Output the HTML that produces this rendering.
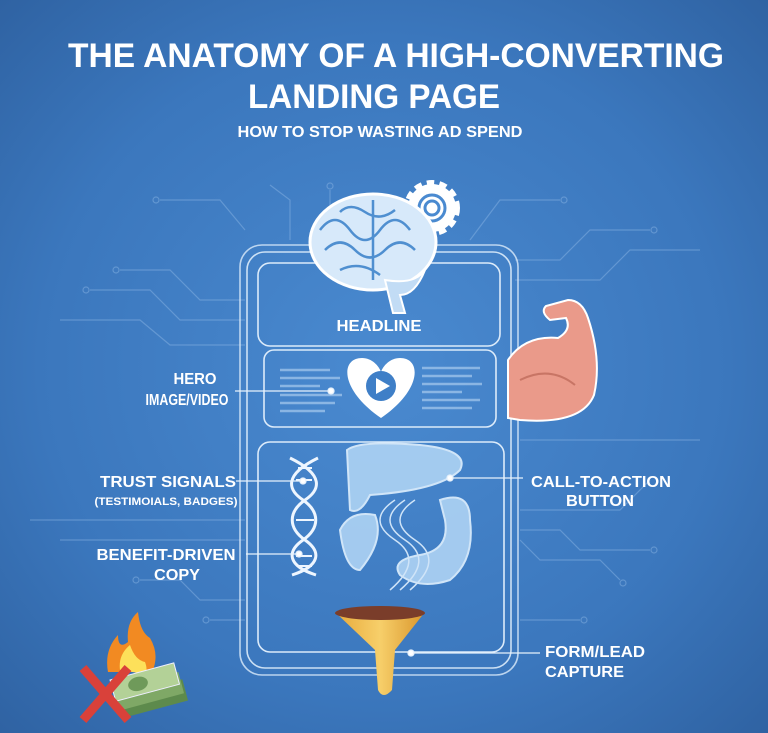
<!DOCTYPE html>
<html><head><meta charset="utf-8"><style>
html,body{margin:0;padding:0;width:768px;height:733px;overflow:hidden}
svg{display:block}
text{font-family:"Liberation Sans",sans-serif;font-weight:bold;fill:#fff}
</style></head><body>
<svg width="768" height="733" viewBox="0 0 768 733" xmlns="http://www.w3.org/2000/svg">
<defs>
<radialGradient id="bg" cx="0.5" cy="0.5" r="0.75">
<stop offset="0" stop-color="#4a8ad0"/><stop offset="0.6" stop-color="#3b77bd"/><stop offset="1" stop-color="#2d5f9e"/>
</radialGradient>
<linearGradient id="fun" x1="0" x2="1"><stop offset="0" stop-color="#e7a93a"/><stop offset="0.5" stop-color="#f7cf6a"/><stop offset="1" stop-color="#d9952b"/></linearGradient>
</defs>
<rect width="768" height="733" fill="url(#bg)"/>
<g stroke="#8fb8e6" stroke-width="1.2" fill="none" opacity="0.45">
<path d="M245 300 H200 L170 270 H120"/><circle cx="116" cy="270" r="3"/>
<path d="M245 320 H180 L150 290 H90"/><circle cx="86" cy="290" r="3"/>
<path d="M245 345 H170 L140 320 H60"/>
<path d="M245 230 L220 200 H160"/><circle cx="156" cy="200" r="3"/>
<path d="M290 240 V200 L270 185"/><path d="M330 230 V190"/><circle cx="330" cy="186" r="3"/>
<path d="M470 240 L500 200 H560"/><circle cx="564" cy="200" r="3"/>
<path d="M515 260 H560 L590 230 H650"/><circle cx="654" cy="230" r="3"/>
<path d="M515 280 H600 L630 250 H700"/>
<path d="M520 510 H620 L650 480"/><path d="M520 530 H560 L580 550 H650"/><circle cx="654" cy="550" r="3"/>
<path d="M520 540 L540 560 H600 L620 580"/><circle cx="623" cy="583" r="3"/>
<path d="M520 620 H580"/><circle cx="584" cy="620" r="3"/>
<path d="M245 600 H200 L180 580 H140"/><circle cx="136" cy="580" r="3"/>
<path d="M245 620 H210"/><circle cx="206" cy="620" r="3"/>
<path d="M245 520 H30"/><path d="M245 540 H60"/>
<path d="M520 440 H700"/>
</g>
<g fill="none" stroke="#dcebfa" stroke-width="1.6">
<rect x="240" y="245" width="278" height="430" rx="22" opacity="0.8"/>
<rect x="247" y="252" width="264" height="416" rx="18" opacity="0.9"/>
<rect x="258" y="263" width="242" height="83" rx="12"/>
<rect x="264" y="350" width="232" height="77" rx="10"/>
<rect x="258" y="442" width="246" height="210" rx="12"/>
</g>
<g transform="translate(432,208)">
<circle r="24" fill="#fff" stroke="#fff" stroke-width="8" stroke-dasharray="7 5"/>
<circle r="21" fill="#fff"/>
<circle r="13" fill="none" stroke="#4a8ad0" stroke-width="3"/>
<circle r="7" fill="none" stroke="#4a8ad0" stroke-width="3"/>
</g>
<ellipse cx="373" cy="242" rx="63" ry="48" fill="#d7e9fa" stroke="#fff" stroke-width="3"/>
<g stroke="#4f8fd0" stroke-width="2.5" fill="none">
<path d="M320 230 q15 -20 30 0 q15 20 30 0 q15 -20 30 0"/>
<path d="M325 250 q15 -15 30 0 q15 15 30 0 q15 -15 30 0"/>
<path d="M340 212 q10 -10 25 0 q15 10 30 -2"/>
<path d="M340 270 q20 -10 40 5"/>
<path d="M373 200 v80"/>
</g>
<path d="M385 280 q30 5 40 -10 q-10 25 -25 25 l5 18 l-12 0 z" fill="#c2dcf5" stroke="#fff" stroke-width="2"/>
<text x="379" y="331" font-size="16" text-anchor="middle" textLength="85" lengthAdjust="spacingAndGlyphs">HEADLINE</text>
<g stroke="#9cc2ea" stroke-width="2.5" opacity="0.8">
<path d="M280 370 h50 M280 378 h60 M280 386 h40 M280 395 h62 M280 403 h55 M280 411 h45"/>
<path d="M422 368 h58 M422 376 h50 M422 384 h60 M422 392 h40 M422 400 h58 M422 408 h50"/>
</g>
<path d="M381 418 C340 390 340 358 362 358 C372 358 379 366 381 372 C383 366 390 358 400 358 C422 358 422 390 381 418 Z" fill="#fff"/>
<circle cx="381" cy="386" r="15" fill="#3f7fc7"/>
<path d="M376 378 L390 386 L376 394 Z" fill="#fff"/>
<!-- arm -->
<path d="M508 360 Q525 335 558 338 Q572 330 566 318 L550 320 Q540 312 546 306 L568 300 Q582 300 588 318 Q602 360 594 395 Q582 425 520 420 L508 418 Z" fill="#ea9a8a" stroke="#fff" stroke-width="2"/>
<path d="M520 380 q30 -15 55 5" stroke="#c87565" stroke-width="2" fill="none"/>
<g fill="#a9cff2" stroke="#d8ebfb" stroke-width="2" opacity="0.95">
<path d="M347 450 Q360 440 420 445 Q470 450 460 470 Q440 490 370 495 Q360 515 350 510 Z"/>
<path d="M340 530 Q350 510 375 515 Q385 540 360 570 Q345 570 340 530 Z"/>
<path d="M440 500 Q470 490 470 520 Q475 560 450 580 Q420 590 400 575 Q390 560 420 555 Q450 550 445 520 Z"/>
</g>
<g stroke="#cfe4f8" stroke-width="1.5" fill="none">
<path d="M395 500 q-30 20 0 40 q30 20 -5 50"/><path d="M405 500 q-30 20 0 40 q30 20 -5 50"/><path d="M415 500 q-30 20 0 40 q30 20 -5 50"/>
</g>
<!-- DNA -->
<g stroke="#eef6ff" stroke-width="3" fill="none">
<path d="M290 458 C325 475 320 490 305 500 C288 512 288 528 305 540 C322 552 320 566 292 575"/>
<path d="M318 458 C283 475 288 490 303 500 C320 512 320 528 303 540 C286 552 288 566 316 575"/>
</g>
<g stroke="#eef6ff" stroke-width="2"><path d="M298 468h14 M296 480h16 M296 520h18 M296 556h16 M298 566h14"/></g>
<path d="M335 612 L425 612 L395 650 L392 690 Q383 700 378 690 L375 650 Z" fill="url(#fun)"/>
<ellipse cx="380" cy="613" rx="45" ry="7" fill="#7a3d2a"/>
<g stroke="#e6f1fc" stroke-width="1.3" fill="none">
<path d="M236 481 H303"/><circle cx="303" cy="481" r="3" fill="#fff"/>
<path d="M246 554 H299"/><circle cx="299" cy="554" r="3" fill="#fff"/>
<path d="M450 478 H523"/><circle cx="450" cy="478" r="3" fill="#fff"/>
<path d="M410 653 H540"/><circle cx="411" cy="653" r="3" fill="#fff"/>
<path d="M235 391 H331"/><circle cx="331" cy="391" r="3" fill="#fff"/>
</g>
<!-- fire & money -->
<path d="M108 672 Q104 650 118 635 Q118 650 128 642 Q126 622 138 612 Q140 632 150 638 Q160 655 152 672 Z" fill="#f28a22"/>
<path d="M120 670 Q118 655 130 645 Q135 660 145 662 Q148 670 145 674 Z" fill="#fde05a"/>
<g transform="rotate(-15 150 690)">
<rect x="118" y="688" width="66" height="22" fill="#5d8a4c"/>
<rect x="116" y="680" width="66" height="22" fill="#7fa866"/>
<rect x="114" y="670" width="66" height="22" fill="#b3d197" stroke="#eef" stroke-width="1"/>
<ellipse cx="140" cy="681" rx="10" ry="7" fill="#6f9a5a"/>
</g>
<path d="M83 668 L128 720 M128 668 L83 720" stroke="#d9413a" stroke-width="9"/>
<text x="396" y="67" font-size="34" text-anchor="middle" textLength="656" lengthAdjust="spacingAndGlyphs">THE ANATOMY OF A HIGH-CONVERTING</text>
<text x="374" y="108" font-size="34" text-anchor="middle" textLength="252" lengthAdjust="spacingAndGlyphs">LANDING PAGE</text>
<text x="380" y="137" font-size="16" text-anchor="middle" textLength="285" lengthAdjust="spacingAndGlyphs">HOW TO STOP WASTING AD SPEND</text>
<g font-size="16">
<text x="195" y="384" text-anchor="middle" textLength="43" lengthAdjust="spacingAndGlyphs">HERO</text>
<text x="187" y="405" text-anchor="middle" textLength="83" lengthAdjust="spacingAndGlyphs">IMAGE/VIDEO</text>
<text x="168" y="487" text-anchor="middle" textLength="136" lengthAdjust="spacingAndGlyphs">TRUST SIGNALS</text>
<text x="177" y="580" text-anchor="middle" textLength="46" lengthAdjust="spacingAndGlyphs">COPY</text>
<text x="166" y="560" text-anchor="middle" textLength="139" lengthAdjust="spacingAndGlyphs">BENEFIT-DRIVEN</text>
<text x="601" y="487" text-anchor="middle" textLength="140" lengthAdjust="spacingAndGlyphs">CALL-TO-ACTION</text>
<text x="600" y="506" text-anchor="middle" textLength="68" lengthAdjust="spacingAndGlyphs">BUTTON</text>
<text x="545" y="657" textLength="100" lengthAdjust="spacingAndGlyphs">FORM/LEAD</text>
<text x="545" y="677" textLength="79" lengthAdjust="spacingAndGlyphs">CAPTURE</text>
</g>
<text x="166" y="505" font-size="11" text-anchor="middle" textLength="143" lengthAdjust="spacingAndGlyphs" font-weight="normal">(TESTIMOIALS, BADGES)</text>
</svg>
</body></html>
